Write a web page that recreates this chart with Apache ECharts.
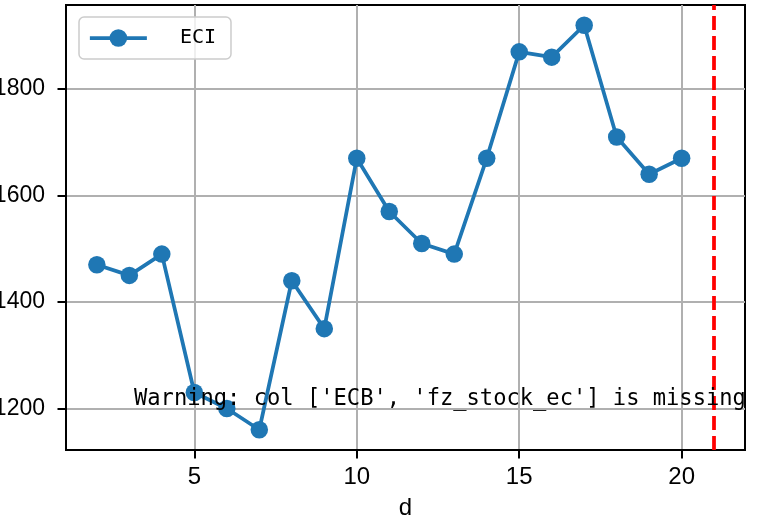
<!DOCTYPE html>
<html>
<head>
<meta charset="utf-8">
<script src="https://cdn.jsdelivr.net/npm/echarts@6/dist/echarts.min.js"></script>
<style>
  html, body { margin: 0; padding: 0; background: #ffffff; }
  #chart { width: 784px; height: 520px; }
</style>
</head>
<body>
<div id="chart"></div>
<script>
const days = [2, 3, 4, 5, 6, 7, 8, 9, 10, 11, 12, 13, 14, 15, 16, 17, 18, 19, 20];
const eci = [1470, 1450, 1490, 1230, 1200, 1160, 1440, 1350, 1670, 1570, 1510, 1490, 1670, 1870, 1860, 1920, 1710, 1640, 1670];
const xTicks = [5, 10, 15, 20];
const yTicks = [1200, 1400, 1600, 1800];
const markerDay = 21;
const seriesName = 'ECI';
const xName = 'd';
const warningText = "Warning: col ['ECB', 'fz_stock_ec'] is missing";

const tickFont = "'Liberation Sans', Arial, sans-serif";
const monoFont = "'DejaVu Sans Mono', monospace";

const chart = echarts.init(document.getElementById('chart'), null, { renderer: 'canvas' });

const option = {
  animation: false,
  backgroundColor: '#ffffff',
  grid: {
    left: 66, right: 39, top: 5, bottom: 70,
    containLabel: false, outerBoundsMode: 'none',
    show: true, borderColor: '#000000', borderWidth: 2, backgroundColor: 'transparent'
  },
  legend: {
    left: 79, top: 17,
    padding: [11, 15, 11, 9],
    itemWidth: 57, itemHeight: 22,
    backgroundColor: 'rgba(255,255,255,0.8)',
    borderColor: '#cccccc', borderWidth: 1.5, borderRadius: 5,
    lineStyle: { width: 3.75 },
    textStyle: { fontFamily: monoFont, fontSize: 20, color: '#000', padding: [0, 0, 0, 28] },
    data: [seriesName]
  },
  xAxis: {
    type: 'value', min: 1.05, max: 21.95,
    name: xName, nameLocation: 'middle', nameGap: 46,
    nameTextStyle: { fontFamily: tickFont, fontSize: 24, color: '#000' },
    axisLine: { show: true, lineStyle: { color: '#000', width: 2 } },
    axisTick: { show: true, length: 8.5, customValues: xTicks, lineStyle: { color: '#000', width: 2 } },
    axisLabel: { customValues: xTicks, fontFamily: tickFont, fontSize: 24, color: '#000', margin: 15,
      formatter: v => String(v) },
    splitLine: { show: true, lineStyle: { color: '#b0b0b0', width: 2 } }
  },
  yAxis: {
    type: 'value', min: 1122, max: 1958,
    axisLine: { show: true, lineStyle: { color: '#000', width: 2 } },
    axisTick: { show: true, length: 8.5, customValues: yTicks, lineStyle: { color: '#000', width: 2 } },
    axisLabel: { customValues: yTicks, fontFamily: tickFont, fontSize: 23, color: '#000', margin: 21,
      formatter: v => String(v) },
    splitLine: { show: true, lineStyle: { color: '#b0b0b0', width: 2 } }
  },
  series: [{
    name: seriesName,
    type: 'line',
    data: days.map((d, i) => [d, eci[i]]),
    symbol: 'circle', symbolSize: 17.5,
    itemStyle: { color: '#1f77b4' },
    lineStyle: { color: '#1f77b4', width: 3.75 },
    markLine: {
      silent: true, symbol: 'none', animation: false,
      label: { show: false },
      lineStyle: { color: '#ff0000', type: [14, 6], width: 3.75 },
      data: [{ xAxis: markerDay }]
    }
  }],
  graphic: [{
    type: 'text', left: 134, top: 388, z: 100,
    style: { text: warningText, font: "22.1px 'DejaVu Sans Mono', monospace", fill: '#000' }
  }]
};
chart.setOption(option);
</script>
</body>
</html>
